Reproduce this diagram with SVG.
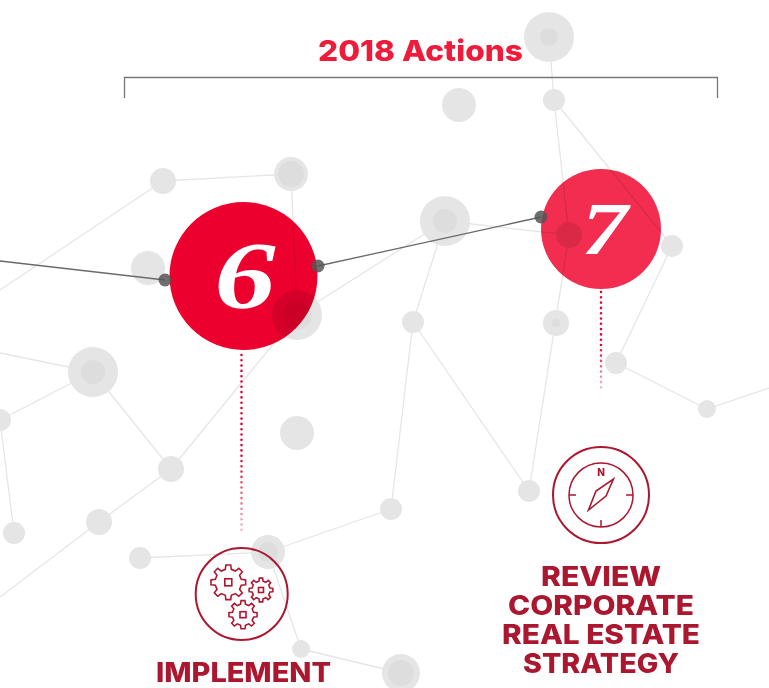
<svg xmlns="http://www.w3.org/2000/svg" width="769" height="688" viewBox="0 0 769 688">
<style>
.e{stroke:#e6e6e6;stroke-width:1.3;fill:none}
.n{fill:#e5e5e5}
.i{fill:#dddddd}
.c{stroke:#6a6a6a;stroke-width:1.3;fill:none}
.d{fill:#555;opacity:.85}
.big{mix-blend-mode:multiply}
.num{font-family:"Liberation Serif",serif;font-weight:700;font-style:italic;fill:#fff;text-anchor:middle}
.lab{font-family:Inter,"Liberation Sans",sans-serif;font-weight:800;font-size:27px;fill:#ac1730;text-anchor:middle}
.ic{fill:none;stroke:#ac1730;stroke-width:2}
.ict{fill:none;stroke:#ac1730;stroke-width:1.6}
.dot{fill:none;stroke-width:2.6;stroke-linecap:round;stroke-dasharray:0 5.300}
</style>
<defs>
<linearGradient id="fa" gradientUnits="userSpaceOnUse" x1="0" y1="355" x2="0" y2="535"><stop offset="0" stop-color="#e8042f"/><stop offset=".55" stop-color="#e8042f"/><stop offset="1" stop-color="#f8c4ce"/></linearGradient>
<linearGradient id="fb" gradientUnits="userSpaceOnUse" x1="0" y1="292" x2="0" y2="390"><stop offset="0" stop-color="#e8042f"/><stop offset=".55" stop-color="#e8042f"/><stop offset="1" stop-color="#f8c4ce"/></linearGradient>
<path id="gear" d="M9.9,1.39L7.4,1.71L6.45,4.03L7.99,6.02L6.02,7.99L4.03,6.45L1.71,7.4L1.39,9.9L-1.39,9.9L-1.71,7.4L-4.03,6.45L-6.02,7.99L-7.99,6.02L-6.45,4.03L-7.4,1.71L-9.9,1.39L-9.9,-1.39L-7.4,-1.71L-6.45,-4.03L-7.99,-6.02L-6.02,-7.99L-4.03,-6.45L-1.71,-7.4L-1.39,-9.9L1.39,-9.9L1.71,-7.4L4.03,-6.45L6.02,-7.99L7.99,-6.02L6.45,-4.03L7.4,-1.71L9.9,-1.39Z"/>
</defs>
<rect width="769" height="688" fill="#fff"/>
<g id="network">
<path class="e" d="M163,181L291,174M163,181L0,290M291,174L297,315M297,315L445,221M297,315L171,469M445,221L569,235M445,221L413,322M413,322L391,509M413,322L529,491M554,100L569,235M569,235L529,491M554,100L672,246M549,37L554,100M672,246L616,363M616,363L707,409M707,409L769,388M93,372L0,420M93,372L171,469M93,372L0,353M0,420L14,533M171,469L99,522M99,522L0,597M140,558L268,552M268,552L391,509M268,552L301,649M301,649L401,673"/>
<g id="bg-nodes">
<circle class="n" cx="549" cy="37" r="25"/><circle class="i" cx="549" cy="37" r="9"/>
<circle class="n" cx="554" cy="100" r="11"/>
<circle class="n" cx="459" cy="105" r="17"/>
<circle class="n" cx="163" cy="181" r="13"/>
<circle class="n" cx="291" cy="174" r="17"/><circle class="i" cx="291" cy="174" r="13"/>
<circle class="n" cx="445" cy="221" r="25"/><circle class="i" cx="445" cy="221" r="12"/>
<circle class="n" cx="569" cy="235" r="13"/>
<circle class="n" cx="672" cy="246" r="11"/>
<circle class="n" cx="148" cy="268" r="17"/>
<circle class="n" cx="297" cy="315" r="25"/><circle class="i" cx="297" cy="315" r="15"/>
<circle class="n" cx="413" cy="322" r="11"/>
<circle class="n" cx="556" cy="323" r="13"/><circle class="i" cx="556" cy="323" r="4"/>
<circle class="n" cx="616" cy="363" r="11"/>
<circle class="n" cx="93" cy="372" r="25"/><circle class="i" cx="93" cy="372" r="12"/>
<circle class="n" cx="707" cy="409" r="9"/>
<circle class="n" cx="0" cy="420" r="11"/>
<circle class="n" cx="297" cy="433" r="17"/>
<circle class="n" cx="171" cy="469" r="13"/>
<circle class="n" cx="529" cy="491" r="11"/>
<circle class="n" cx="14" cy="533" r="11"/>
<circle class="n" cx="99" cy="522" r="13"/>
<circle class="n" cx="391" cy="509" r="11"/>
<circle class="n" cx="140" cy="558" r="11"/>
<circle class="n" cx="268" cy="552" r="17"/><circle class="i" cx="268" cy="552" r="10"/>
<circle class="n" cx="301" cy="649" r="9"/>
<circle class="n" cx="401" cy="673" r="19"/><circle class="i" cx="401" cy="673" r="13"/>
</g>
</g>
<g id="bracket">
<path d="M124.500,98V77.500H717.500V98" fill="none" stroke="#777" stroke-width="1.3"/>
<text x="420.500" y="61" font-family="Inter,'Liberation Sans',sans-serif" font-weight="800" font-size="29" fill="#ee1c3a" text-anchor="middle" textLength="205" lengthAdjust="spacingAndGlyphs">2018 Actions</text>
</g>
<g id="connectors">
<path class="c" d="M0,261L165,280M318,266L541,217"/>
<path class="dot" stroke="url(#fa)" d="M241.500,355V535"/>
<path class="dot" stroke="url(#fb)" d="M601,292V390"/>
</g>
<g id="node-6">
<circle class="big" cx="243.500" cy="276" r="74" fill="#ec002d"/>
<text class="num" font-size="96" transform="translate(245 308) scale(1.27 1)">6</text>
<circle class="d" cx="165" cy="280" r="6.500"/>
<circle class="d" cx="318" cy="266" r="6.500"/>
</g>
<g id="node-7">
<circle class="big" cx="601" cy="229" r="60" fill="#f22d4f"/>
<text class="num" font-size="75" transform="translate(604.500 254) scale(1.23 1)">7</text>
<circle class="d" cx="541" cy="217" r="6.500"/>
</g>
<g id="label-6">
<circle class="ic" cx="241.700" cy="594" r="46"/>
<use href="#gear" class="ict" transform="translate(228.300 582.300) scale(1.75)" style="stroke-width:.9"/>
<rect class="ict" x="224.800" y="578.800" width="7" height="7"/>
<use href="#gear" class="ict" transform="translate(261 590) scale(1.2)" style="stroke-width:1.3"/>
<rect class="ict" x="258.500" y="587.500" width="5" height="5"/>
<use href="#gear" class="ict" transform="translate(243 614.700) scale(1.42)" style="stroke-width:1.1"/>
<rect class="ict" x="240" y="611.700" width="6" height="6"/>
<text class="lab" x="243.500" y="682" textLength="175" lengthAdjust="spacingAndGlyphs">IMPLEMENT</text>
</g>
<g id="label-7">
<circle class="ic" cx="601" cy="495" r="48"/>
<circle class="ic" cx="601" cy="495" r="32" style="stroke-width:1.5"/>
<path class="ic" d="M569,495H576M626,495H633M601,520V527" style="stroke-width:1.5"/>
<path class="ict" d="M613.500,479L606,496L588.500,510L596,491Z"/>
<text x="601" y="476" font-family="Inter,'Liberation Sans',sans-serif" font-weight="800" font-size="10" fill="#ac1730" text-anchor="middle">N</text>
<text class="lab" x="601" y="586" textLength="120" lengthAdjust="spacingAndGlyphs">REVIEW</text>
<text class="lab" x="601" y="614.500" textLength="186" lengthAdjust="spacingAndGlyphs">CORPORATE</text>
<text class="lab" x="601" y="643.500" textLength="198" lengthAdjust="spacingAndGlyphs">REAL ESTATE</text>
<text class="lab" x="601" y="672.500" textLength="156" lengthAdjust="spacingAndGlyphs">STRATEGY</text>
</g>
</svg>
